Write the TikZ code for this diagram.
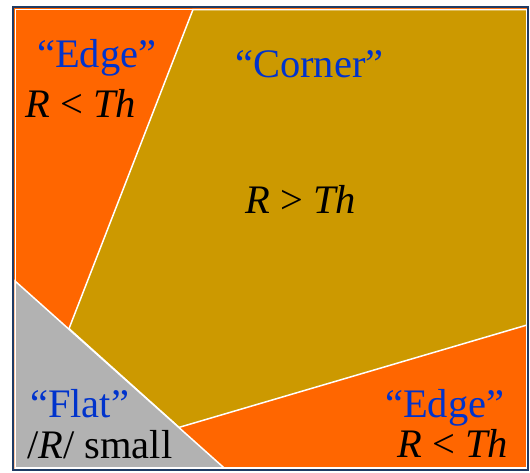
\documentclass[tikz,border=0pt]{standalone}
\usepackage{fontspec}
\setmainfont{Liberation Serif}
\definecolor{edgeor}{HTML}{FF6600}
\definecolor{cornergold}{HTML}{CC9900}
\definecolor{flatgray}{HTML}{B2B2B2}
\definecolor{lblblue}{HTML}{0033CC}
\definecolor{framenavy}{HTML}{1F3B64}
\begin{document}
\begin{tikzpicture}[x=1pt,y=-1pt,
  region/.style={draw=white,line width=1.5pt,line join=miter},
  lbl/.style={anchor=base west,inner sep=0pt,font=\fontsize{40.5}{48}\selectfont},
  blue/.style={lbl,text=lblblue}]
\useasboundingbox (0,0) rectangle (530,472);
% orange background
\fill[edgeor] (14,8) rectangle (527,469);
% corner region
\draw[region,fill=cornergold] (193,9.5) -- (527,9.5) -- (527,325) -- (179,427.4) -- (69,328.6) -- cycle;
% flat region
\draw[region,fill=flatgray] (15,281) -- (225.3,469) -- (15,469) -- cycle;
% inner white frame
\draw[white,line width=1.2pt] (15.5,9.5) rectangle (526.5,468);
% outer frame
\draw[framenavy,line width=2pt] (13,7) rectangle (528,470);
% labels
\node[blue] (e1) at (37,67) {“Edge”};
\node[lbl] (r1) at (25,117) {\textit{R} < \textit{Th}};
\node[blue] (c1) at (235,77) {“Corner”};
\node[lbl] (r2) at (245,213) {\textit{R} > \textit{Th}};
\node[blue] (f1) at (30,417) {“Flat”};
\node[lbl] (r3) at (27,458) {/\textit{R}/ small};
\node[blue] (e2) at (385,417) {“Edge”};
\node[lbl] (r4) at (397,457) {\textit{R} < \textit{Th}};
\end{tikzpicture}
\end{document}
